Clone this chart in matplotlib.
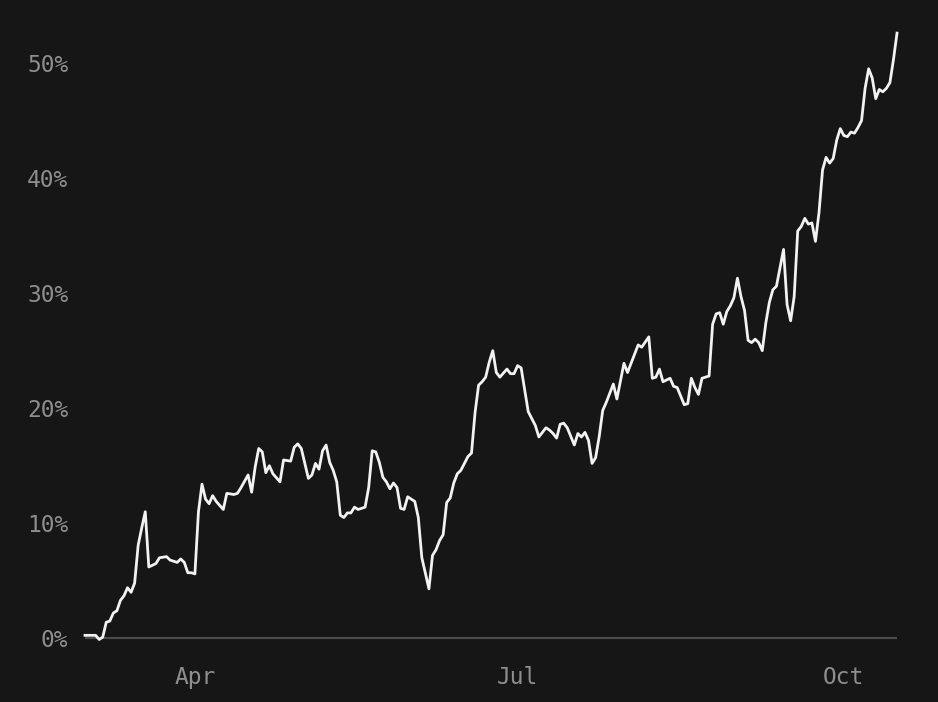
import matplotlib
matplotlib.use("Agg")
import matplotlib.pyplot as plt
import matplotlib.ticker as mticker
import pandas as pd

dates = [
    "2023-03-01", "2023-03-04", "2023-03-05", "2023-03-06", "2023-03-07", "2023-03-08",
    "2023-03-09", "2023-03-10", "2023-03-11", "2023-03-12", "2023-03-13", "2023-03-14",
    "2023-03-15", "2023-03-16", "2023-03-17", "2023-03-18", "2023-03-19", "2023-03-21",
    "2023-03-22", "2023-03-24", "2023-03-25", "2023-03-27", "2023-03-28", "2023-03-29",
    "2023-03-30", "2023-03-31", "2023-04-01", "2023-04-02", "2023-04-03", "2023-04-04",
    "2023-04-05", "2023-04-06", "2023-04-07", "2023-04-09", "2023-04-10", "2023-04-12",
    "2023-04-13", "2023-04-14", "2023-04-16", "2023-04-17", "2023-04-18", "2023-04-19",
    "2023-04-20", "2023-04-21", "2023-04-22", "2023-04-23", "2023-04-25", "2023-04-26",
    "2023-04-28", "2023-04-29", "2023-04-30", "2023-05-01", "2023-05-03", "2023-05-04",
    "2023-05-05", "2023-05-06", "2023-05-07", "2023-05-08", "2023-05-09", "2023-05-10",
    "2023-05-11", "2023-05-12", "2023-05-13", "2023-05-14", "2023-05-15", "2023-05-16",
    "2023-05-17", "2023-05-19", "2023-05-20", "2023-05-21", "2023-05-22", "2023-05-23",
    "2023-05-24", "2023-05-25", "2023-05-26", "2023-05-27", "2023-05-28", "2023-05-29",
    "2023-05-30", "2023-05-31", "2023-06-02", "2023-06-03", "2023-06-04", "2023-06-06",
    "2023-06-07", "2023-06-08", "2023-06-09", "2023-06-10", "2023-06-11", "2023-06-12",
    "2023-06-13", "2023-06-14", "2023-06-15", "2023-06-16", "2023-06-17", "2023-06-18",
    "2023-06-19", "2023-06-20", "2023-06-21", "2023-06-22", "2023-06-23", "2023-06-24",
    "2023-06-25", "2023-06-26", "2023-06-28", "2023-06-29", "2023-06-30", "2023-07-01",
    "2023-07-02", "2023-07-03", "2023-07-04", "2023-07-05", "2023-07-06", "2023-07-07",
    "2023-07-09", "2023-07-10", "2023-07-11", "2023-07-12", "2023-07-13", "2023-07-14",
    "2023-07-15", "2023-07-17", "2023-07-18", "2023-07-19", "2023-07-20", "2023-07-21",
    "2023-07-22", "2023-07-23", "2023-07-24", "2023-07-25", "2023-07-26", "2023-07-28",
    "2023-07-29", "2023-07-31", "2023-08-01", "2023-08-02", "2023-08-04", "2023-08-05",
    "2023-08-07", "2023-08-08", "2023-08-09", "2023-08-10", "2023-08-11", "2023-08-13",
    "2023-08-14", "2023-08-15", "2023-08-17", "2023-08-18", "2023-08-19", "2023-08-20",
    "2023-08-21", "2023-08-22", "2023-08-24", "2023-08-25", "2023-08-26", "2023-08-27",
    "2023-08-28", "2023-08-29", "2023-08-30", "2023-08-31", "2023-09-01", "2023-09-02",
    "2023-09-03", "2023-09-04", "2023-09-05", "2023-09-06", "2023-09-07", "2023-09-08",
    "2023-09-09", "2023-09-10", "2023-09-11", "2023-09-12", "2023-09-13", "2023-09-14",
    "2023-09-15", "2023-09-16", "2023-09-17", "2023-09-18", "2023-09-19", "2023-09-20",
    "2023-09-21", "2023-09-22", "2023-09-23", "2023-09-24", "2023-09-25", "2023-09-26",
    "2023-09-27", "2023-09-28", "2023-09-29", "2023-09-30", "2023-10-01", "2023-10-02",
    "2023-10-03", "2023-10-04", "2023-10-05", "2023-10-06", "2023-10-07", "2023-10-08",
    "2023-10-09", "2023-10-10", "2023-10-11", "2023-10-12", "2023-10-13", "2023-10-14",
    "2023-10-15", "2023-10-16",
]

returns_pct = [
    0.26, 0.26, -0.1, 0.1, 1.4, 1.5,
    2.2, 2.4, 3.3, 3.7, 4.4, 4.0,
    4.8, 8.1, 9.6, 11.0, 6.2, 6.5,
    7.0, 7.1, 6.8, 6.6, 6.9, 6.6,
    5.7, 5.7, 5.6, 11.0, 13.4, 12.1,
    11.7, 12.4, 11.9, 11.2, 12.6, 12.5,
    12.6, 13.1, 14.2, 12.7, 14.9, 16.5,
    16.2, 14.4, 15.0, 14.3, 13.6, 15.5,
    15.4, 16.6, 16.9, 16.5, 13.9, 14.2,
    15.2, 14.7, 16.3, 16.8, 15.3, 14.6,
    13.6, 10.7, 10.5, 10.9, 10.9, 11.4,
    11.2, 11.4, 13.1, 16.3, 16.2, 15.3,
    14.0, 13.6, 13.0, 13.5, 13.1, 11.3,
    11.2, 12.3, 11.9, 10.5, 7.0, 4.3,
    7.2, 7.7, 8.5, 9.0, 11.8, 12.2,
    13.5, 14.3, 14.6, 15.2, 15.8, 16.1,
    19.6, 22.0, 22.3, 22.7, 24.0, 25.0,
    23.1, 22.7, 23.4, 23.0, 23.0, 23.7,
    23.5, 21.6, 19.7, 19.1, 18.5, 17.5,
    18.3, 18.1, 17.8, 17.4, 18.6, 18.7,
    18.3, 16.8, 17.8, 17.5, 17.9, 17.2,
    15.2, 15.7, 17.5, 19.8, 20.5, 22.1,
    20.8, 23.9, 23.1, 23.9, 25.5, 25.3,
    26.2, 22.6, 22.7, 23.4, 22.3, 22.6,
    21.9, 21.8, 20.3, 20.4, 22.6, 21.8,
    21.2, 22.6, 22.8, 27.3, 28.2, 28.3,
    27.3, 28.4, 28.9, 29.6, 31.3, 29.7,
    28.5, 25.9, 25.7, 26.0, 25.7, 25.0,
    27.4, 29.2, 30.3, 30.6, 32.2, 33.8,
    29.0, 27.6, 29.7, 35.4, 35.8, 36.5,
    36.0, 36.1, 34.5, 37.0, 40.7, 41.8,
    41.3, 41.7, 43.3, 44.3, 43.7, 43.6,
    44.0, 43.9, 44.4, 45.0, 47.8, 49.5,
    48.7, 46.9, 47.7, 47.5, 47.8, 48.3,
    50.3, 52.6,
]

y_ticks = [0, 10, 20, 30, 40, 50]
x_tick_dates = ["2023-04-01", "2023-07-01", "2023-10-01"]
x_tick_labels = ["Apr", "Jul", "Oct"]

BG = "#161616"
LINE = "#f2f2f2"
TICK = "#8e8e8e"
AXIS = "#4a4a4a"

x = pd.to_datetime(dates)

fig = plt.figure(figsize=(9.38, 7.02), dpi=100, facecolor=BG)
ax = fig.add_axes([0.0906, 0.0825, 0.8657, 0.8769])
ax.set_facecolor(BG)

ax.axhline(0, color=AXIS, lw=1.6, zorder=1)
ax.plot(x, returns_pct, color=LINE, lw=2.0, solid_joinstyle="round", zorder=3, clip_on=False)

ax.set_xlim(x.min(), x.max())
ax.set_ylim(-0.5, 53)

ax.set_yticks(y_ticks)
ax.yaxis.set_major_formatter(mticker.FuncFormatter(lambda v, p: f"{int(v)}%"))
ax.set_xticks(pd.to_datetime(x_tick_dates))
ax.set_xticklabels(x_tick_labels)

for s in ax.spines.values():
    s.set_visible(False)

ax.tick_params(axis="both", length=0, colors=TICK, labelsize=16.5)
ax.tick_params(axis="y", pad=12)
ax.tick_params(axis="x", pad=16)
for lbl in ax.get_xticklabels() + ax.get_yticklabels():
    lbl.set_fontfamily("DejaVu Sans Mono")
    lbl.set_color(TICK)

fig.savefig("out.png", dpi=100, facecolor=BG)
